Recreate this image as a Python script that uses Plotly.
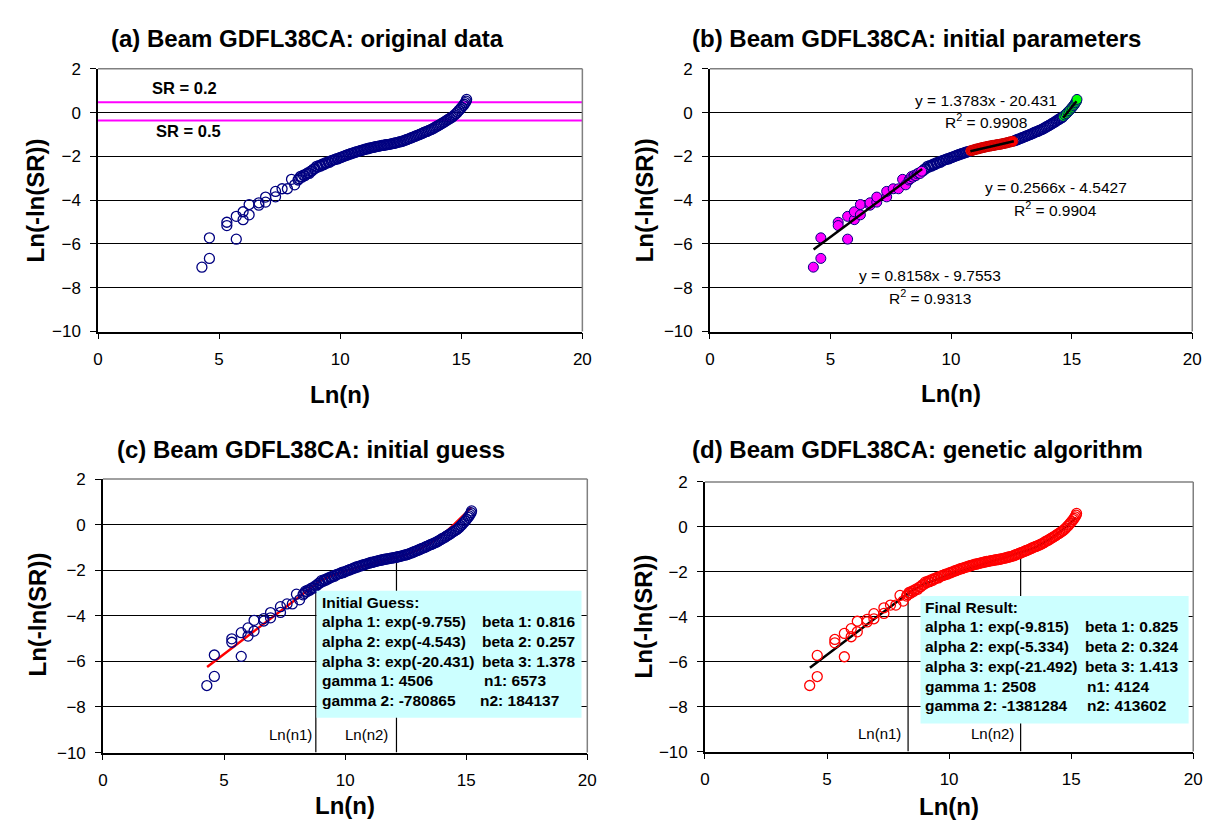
import plotly.graph_objects as go

# ---------------- data ----------------
# sparse low-cycle points
X_LOW = [4.29, 4.60, 4.60, 5.32, 5.32, 5.71, 5.71, 5.99, 5.99, 6.24, 6.24,
         6.64, 6.64, 6.92, 6.92, 7.33, 7.33, 7.60, 7.82, 7.99, 8.12, 8.26]
Y_LOW = [-7.06, -6.66, -5.72, -5.01, -5.16, -5.78, -4.74, -4.89, -4.53, -4.67, -4.20,
         -4.23, -4.12, -4.09, -3.86, -3.85, -3.60, -3.48, -3.48, -3.05, -3.30, -3.08]
# dense band
X_BAND = [8.30, 8.36, 8.42, 8.48, 8.54, 8.60, 8.66, 8.72, 8.78, 8.84, 8.90, 8.96,
          9.02, 9.08, 9.14, 9.20, 9.26, 9.32, 9.38, 9.44, 9.50, 9.56, 9.62, 9.68,
          9.74, 9.80, 9.86, 9.92, 9.98, 10.04, 10.10, 10.16, 10.22, 10.28, 10.34, 10.40,
          10.46, 10.52, 10.58, 10.64, 10.70, 10.76, 10.82, 10.88, 10.94, 11.00, 11.06, 11.12,
          11.18, 11.24, 11.30, 11.36, 11.42, 11.48, 11.54, 11.60, 11.66, 11.72, 11.78, 11.84,
          11.90, 11.96, 12.02, 12.08, 12.14, 12.20, 12.26, 12.32, 12.38, 12.44, 12.50, 12.56,
          12.62, 12.68, 12.74, 12.80, 12.86, 12.92, 12.98, 13.04, 13.10, 13.16, 13.22, 13.28,
          13.34, 13.40, 13.46, 13.52, 13.58, 13.64, 13.70, 13.76, 13.82, 13.88, 13.94, 14.00,
          14.06, 14.12, 14.18, 14.24, 14.30, 14.36, 14.42, 14.48, 14.54, 14.60, 14.66, 14.72,
          14.78, 14.84, 14.90, 14.96, 15.02, 15.08, 15.12, 15.16, 15.20, 15.22]
Y_BAND = [-3.02, -2.92, -2.95, -2.86, -2.88, -2.80, -2.76, -2.78, -2.68, -2.66, -2.58, -2.56,
          -2.46, -2.49, -2.41, -2.44, -2.36, -2.38, -2.30, -2.31, -2.25, -2.27, -2.21, -2.18,
          -2.16, -2.14, -2.10, -2.11, -2.06, -2.05, -2.01, -2.00, -1.96, -1.95, -1.91, -1.90,
          -1.86, -1.86, -1.82, -1.81, -1.78, -1.77, -1.74, -1.73, -1.70, -1.69, -1.66, -1.66,
          -1.63, -1.62, -1.60, -1.59, -1.57, -1.56, -1.54, -1.53, -1.52, -1.50, -1.50, -1.48,
          -1.47, -1.46, -1.45, -1.44, -1.42, -1.41, -1.39, -1.38, -1.36, -1.34, -1.33, -1.31,
          -1.29, -1.26, -1.24, -1.21, -1.19, -1.16, -1.13, -1.11, -1.08, -1.05, -1.03, -1.00,
          -0.97, -0.94, -0.91, -0.88, -0.86, -0.83, -0.80, -0.77, -0.74, -0.70, -0.66, -0.62,
          -0.59, -0.55, -0.51, -0.47, -0.43, -0.39, -0.34, -0.30, -0.26, -0.22, -0.17, -0.11,
          -0.05, 0.02, 0.09, 0.16, 0.24, 0.32, 0.38, 0.45, 0.52, 0.60]
LN_N = X_LOW + X_BAND
LN_LN_SR = Y_LOW + Y_BAND

# SR reference levels (panel a)
SR_LABELS = ["SR = 0.2", "SR = 0.5"]
SR_LEVEL_Y = [0.476, -0.367]

# panel b: fit segments
FIT_X = [[4.30, 8.80], [10.80, 12.60], [14.65, 15.20]]
FIT_Y = [[-6.25, -2.58], [-1.77, -1.31], [-0.24, 0.52]]
FIT_RANGES = [(0.0, 8.80), (10.80, 12.60), (14.65, 16.0)]
FIT_EQ = ["y = 0.8158x - 9.7553", "y = 0.2566x - 4.5427", "y = 1.3783x - 20.431"]
FIT_R2 = ["0.9313", "0.9904", "0.9908"]

# panel c: initial-guess model curve
C_MODEL_X = [4.30, 8.79, 9.0, 9.5, 10.0, 10.5, 11.0, 11.5, 12.0, 12.12, 12.5, 13.0,
             13.25, 13.5, 13.75, 14.0, 14.25, 14.5, 14.75, 15.0, 15.2]
C_MODEL_Y = [-6.25, -2.58, -2.44, -2.21, -2.03, -1.88, -1.74, -1.60, -1.47, -1.43, -1.33, -1.12,
             -0.98, -0.83, -0.65, -0.45, -0.23, 0.01, 0.26, 0.53, 0.76]
C_LN_N1, C_LN_N2 = 8.79, 12.12
C_TOP1, C_TOP2 = -2.58, -1.43

# panel d: genetic-algorithm model curve
D_MODEL_X = [4.30, 8.32, 8.5, 9.0, 9.5, 10.0, 10.5, 11.0, 11.5, 12.0, 12.5, 12.93,
             13.25, 13.5, 13.75, 14.0, 14.25, 14.5, 14.75, 15.0, 15.2]
D_MODEL_Y = [-6.27, -2.95, -2.81, -2.54, -2.32, -2.13, -1.96, -1.78, -1.62, -1.45, -1.29, -1.15,
             -1.03, -0.92, -0.78, -0.63, -0.45, -0.26, -0.04, 0.20, 0.41]
D_LN_N1, D_LN_N2 = 8.32, 12.93
D_TOP1, D_TOP2 = -2.95, -1.15

C_LEFT = ["Initial Guess:", "alpha 1: exp(-9.755)", "alpha 2: exp(-4.543)",
          "alpha 3: exp(-20.431)", "gamma 1: 4506", "gamma 2: -780865"]
C_RIGHT = ["", "beta 1: 0.816", "beta 2: 0.257", "beta 3: 1.378", "n1: 6573", "n2: 184137"]
D_LEFT = ["Final Result:", "alpha 1: exp(-9.815)", "alpha 2: exp(-5.334)",
          "alpha 3: exp(-21.492)", "gamma 1: 2508", "gamma 2: -1381284"]
D_RIGHT = ["", "beta 1: 0.825", "beta 2: 0.324", "beta 3: 1.413", "n1: 4124", "n2: 413602"]

TITLES = ["(a) Beam GDFL38CA: original data", "(b) Beam GDFL38CA: initial parameters",
          "(c) Beam GDFL38CA: initial guess", "(d) Beam GDFL38CA: genetic algorithm"]

# ---------------- layout geometry (pixels) ----------------
W, H = 1216, 820
FONT = "Arial, Liberation Sans, Helvetica, sans-serif"
NAVY = "#000080"

def px(x):
    return x / W

def py(y):
    return 1 - y / H

PANELS = {
    # name: (x0, x1, ytop, ybottom)
    "a": (86, 576, 53, 322),
    "b": (705, 1193, 53, 322),
    "c": (91, 581, 473, 753),
    "d": (700, 1194, 476, 752),
}
AXES = {"a": ("x", "y", ""), "b": ("x2", "y2", "2"), "c": ("x3", "y3", "3"), "d": ("x4", "y4", "4")}

fig = go.Figure()
layout = dict(width=W, height=H, margin=dict(l=0, r=0, t=0, b=0),
              paper_bgcolor="white", plot_bgcolor="white", showlegend=False,
              font=dict(family=FONT, color="black"))
shapes = []
annotations = []

for key, (x0, x1, yt, yb) in PANELS.items():
    xa, ya, sfx = AXES[key]
    layout["xaxis" + sfx] = dict(
        domain=[px(x0), px(x1)], anchor=ya, range=[0, 20], tickvals=[0, 5, 10, 15, 20],
        ticks="outside", ticklen=6, tickcolor="black", tickwidth=1,
        showline=True, linecolor="black", linewidth=1.5, showgrid=False, zeroline=False,
        tickfont=dict(size=17, family=FONT, color="black"), ticklabelstandoff=5)
    layout["yaxis" + sfx] = dict(
        domain=[py(yb), py(yt)], anchor=xa, range=[-10, 2], tickvals=list(range(-10, 3, 2)),
        ticks="outside", ticklen=6, tickcolor="black", tickwidth=1,
        showline=True, linecolor="black", linewidth=1.5, showgrid=True, gridcolor="black",
        gridwidth=1, zeroline=False,
        tickfont=dict(size=17, family=FONT, color="black"), ticklabelstandoff=6)
    # gray plot-area border (top and right)
    shapes.append(dict(type="line", xref=xa + " domain", yref=ya + " domain", x0=0, x1=1, y0=1, y1=1,
                       line=dict(color="#808080", width=1.5), layer="above"))
    shapes.append(dict(type="line", xref=xa + " domain", yref=ya + " domain", x0=1, x1=1, y0=0, y1=1,
                       line=dict(color="#808080", width=1.5), layer="above"))

# titles and axis titles
TITLE_POS = {"a": (298, 22), "b": (914, 22), "c": (301, 443), "d": (915, 443)}
YT_POS = {"a": (23, 188), "b": (639, 188), "c": (25, 612), "d": (638, 614)}
XT_POS = {"a": (331, 386), "b": (949, 385), "c": (336, 807), "d": (947, 808)}
for key, t in zip(["a", "b", "c", "d"], TITLES):
    annotations.append(dict(text="<b>%s</b>" % t, xref="paper", yref="paper",
                            x=px(TITLE_POS[key][0]), y=py(TITLE_POS[key][1]),
                            xanchor="center", yanchor="middle", showarrow=False,
                            font=dict(size=24, family=FONT, color="black")))
    annotations.append(dict(text="<b>Ln(-ln(SR))</b>", xref="paper", yref="paper",
                            x=px(YT_POS[key][0]), y=py(YT_POS[key][1]), textangle=-90,
                            xanchor="center", yanchor="middle", showarrow=False,
                            font=dict(size=24, family=FONT, color="black")))
    annotations.append(dict(text="<b>Ln(n)</b>", xref="paper", yref="paper",
                            x=px(XT_POS[key][0]), y=py(XT_POS[key][1]),
                            xanchor="center", yanchor="middle", showarrow=False,
                            font=dict(size=24, family=FONT, color="black")))

# ---------------- panel (a) ----------------
for lvl in SR_LEVEL_Y:
    fig.add_trace(go.Scatter(x=[0, 20], y=[lvl, lvl], mode="lines",
                             line=dict(color="#FF00FF", width=2), xaxis="x", yaxis="y",
                             hoverinfo="skip"))
fig.add_trace(go.Scatter(x=LN_N, y=LN_LN_SR, mode="markers", xaxis="x", yaxis="y",
                         marker=dict(symbol="circle-open", size=10, color=NAVY,
                                     line=dict(width=1.3, color=NAVY))))
annotations.append(dict(text="<b>%s</b>" % SR_LABELS[0], xref="x", yref="y", x=3.57, y=1.11,
                        showarrow=False, xanchor="center", yanchor="middle",
                        font=dict(size=16.5, family=FONT, color="black")))
annotations.append(dict(text="<b>%s</b>" % SR_LABELS[1], xref="x", yref="y", x=3.72, y=-0.85,
                        showarrow=False, xanchor="center", yanchor="middle",
                        font=dict(size=16.5, family=FONT, color="black")))

# ---------------- panel (b) ----------------
def in_range(v, r):
    return r[0] <= v <= r[1]

groups = {"mag": ([], []), "red": ([], []), "grn": ([], []), "oth": ([], [])}
for xv, yv in zip(LN_N, LN_LN_SR):
    if in_range(xv, FIT_RANGES[0]):
        g = "mag"
    elif in_range(xv, FIT_RANGES[1]):
        g = "red"
    elif in_range(xv, FIT_RANGES[2]):
        g = "grn"
    else:
        g = "oth"
    groups[g][0].append(xv)
    groups[g][1].append(yv)

fig.add_trace(go.Scatter(x=groups["oth"][0], y=groups["oth"][1], mode="markers", xaxis="x2", yaxis="y2",
                         marker=dict(symbol="circle-open", size=10, color=NAVY,
                                     line=dict(width=1.3, color=NAVY))))
fig.add_trace(go.Scatter(x=groups["mag"][0], y=groups["mag"][1], mode="markers", xaxis="x2", yaxis="y2",
                         marker=dict(symbol="circle", size=10, color="#FF00FF",
                                     line=dict(width=1, color=NAVY))))
fig.add_trace(go.Scatter(x=groups["red"][0], y=groups["red"][1], mode="markers", xaxis="x2", yaxis="y2",
                         marker=dict(symbol="circle", size=10, color="#FF0000",
                                     line=dict(width=1, color="#CC0000"))))
fig.add_trace(go.Scatter(x=groups["grn"][0], y=groups["grn"][1], mode="markers", xaxis="x2", yaxis="y2",
                         marker=dict(symbol="circle", size=10, color="#00FF00",
                                     line=dict(width=1, color=NAVY))))
for fx, fy in zip(FIT_X, FIT_Y):
    fig.add_trace(go.Scatter(x=fx, y=fy, mode="lines", xaxis="x2", yaxis="y2",
                             line=dict(color="black", width=2.5)))

EQ_POS = [(9.12, -7.45, -8.42), (14.33, -3.42, -4.41), (11.43, 0.57, -0.38)]
for eq, r2, (ex, ey, ry) in zip(FIT_EQ, FIT_R2, EQ_POS):
    annotations.append(dict(text=eq, xref="x2", yref="y2", x=ex, y=ey, showarrow=False,
                            xanchor="center", yanchor="middle",
                            font=dict(size=15.5, family=FONT, color="black")))
    annotations.append(dict(text="R<sup>2</sup> = " + r2, xref="x2", yref="y2", x=ex, y=ry,
                            showarrow=False, xanchor="center", yanchor="middle",
                            font=dict(size=15.5, family=FONT, color="black")))

# ---------------- panels (c) and (d) ----------------
def model_panel(xa, ya, mx, my, mcolor, n1, n2, top1, top2, pcolor, box, left, right,
                lx, rx, ly, lab1x, lab2x):
    fig.add_trace(go.Scatter(x=mx, y=my, mode="lines", xaxis=xa, yaxis=ya,
                             line=dict(color=mcolor, width=2.5)))
    for xv, tv in ((n1, top1), (n2, top2)):
        fig.add_trace(go.Scatter(x=[xv, xv], y=[-10, tv], mode="lines", xaxis=xa, yaxis=ya,
                                 line=dict(color="black", width=1.2)))
    fig.add_trace(go.Scatter(x=LN_N, y=LN_LN_SR, mode="markers", xaxis=xa, yaxis=ya,
                             marker=dict(symbol="circle-open", size=10, color=pcolor,
                                         line=dict(width=1.3, color=pcolor))))
    shapes.append(dict(type="rect", xref=xa, yref=ya, x0=box[0], x1=box[1], y0=box[2], y1=box[3],
                       fillcolor="#CCFFFF", line=dict(width=0), layer="above"))
    for i, (lt, rt) in enumerate(zip(left, right)):
        annotations.append(dict(text="<b>%s</b>" % lt, xref=xa, yref=ya, x=lx, y=ly[i],
                                showarrow=False, xanchor="left", yanchor="middle",
                                font=dict(size=15.5, family=FONT, color="black")))
        if rt:
            annotations.append(dict(text="<b>%s</b>" % rt, xref=xa, yref=ya, x=rx[i], y=ly[i],
                                    showarrow=False, xanchor="left", yanchor="middle",
                                    font=dict(size=15.5, family=FONT, color="black")))
    annotations.append(dict(text="Ln(n1)", xref=xa, yref=ya, x=lab1x, y=-9.2, showarrow=False,
                            xanchor="right", yanchor="middle",
                            font=dict(size=15, family=FONT, color="black")))
    annotations.append(dict(text="Ln(n2)", xref=xa, yref=ya, x=lab2x, y=-9.2, showarrow=False,
                            xanchor="right", yanchor="middle",
                            font=dict(size=15, family=FONT, color="black")))

model_panel("x3", "y3", C_MODEL_X, C_MODEL_Y, "#FF0000", C_LN_N1, C_LN_N2, C_TOP1, C_TOP2, NAVY,
            (8.82, 19.76, -8.47, -2.90), C_LEFT, C_RIGHT, 8.95,
            [0, 15.56, 15.56, 15.56, 15.67, 15.48],
            [-3.40, -4.26, -5.13, -5.99, -6.84, -7.70], C_LN_N1 - 0.08, C_LN_N2 - 0.25)
model_panel("x4", "y4", D_MODEL_X, D_MODEL_Y, "black", D_LN_N1, D_LN_N2, D_TOP1, D_TOP2, "#FF0000",
            (8.83, 19.81, -8.75, -3.07), D_LEFT, D_RIGHT, 8.94,
            [0, 15.47, 15.47, 15.47, 15.56, 15.56],
            [-3.58, -4.42, -5.32, -6.22, -7.09, -7.94], D_LN_N1 - 0.22, D_LN_N2 - 0.2)

layout["shapes"] = shapes
layout["annotations"] = annotations
fig.update_layout(**layout)
fig.update_traces(hoverinfo="skip")
fig.write_html("out.html")
